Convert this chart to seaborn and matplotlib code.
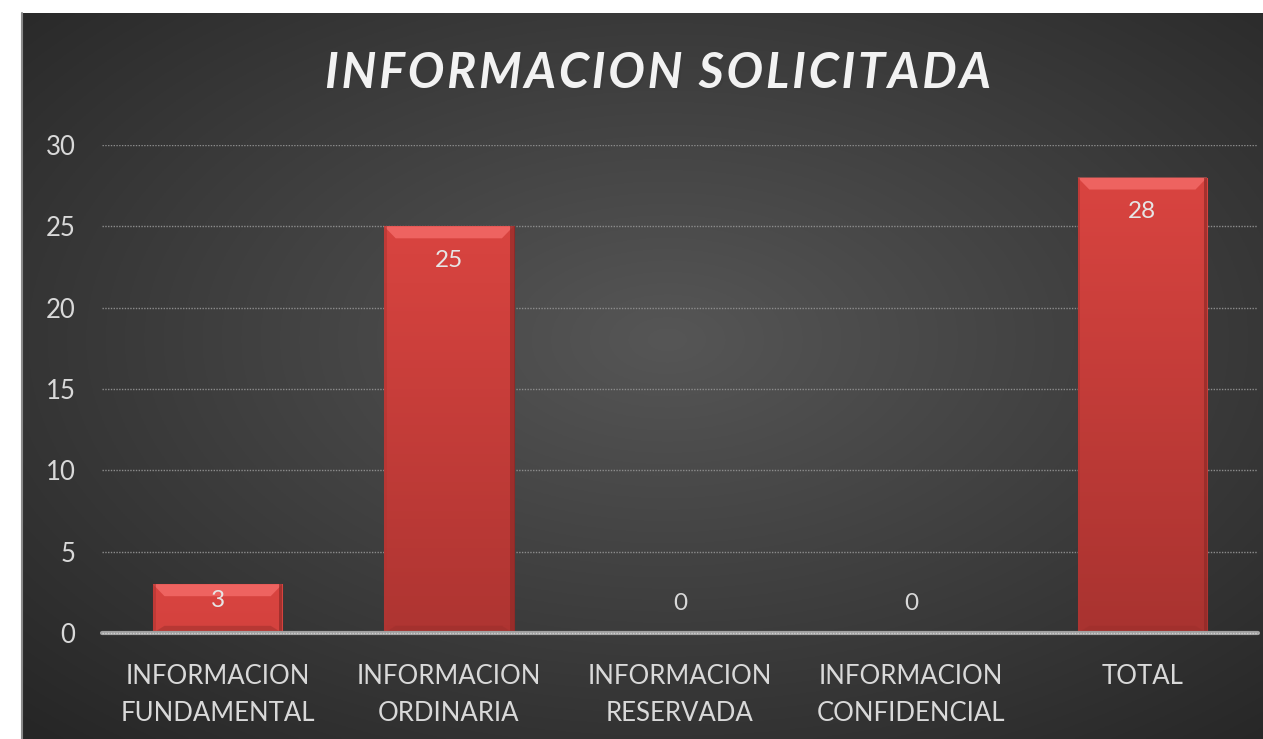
import numpy as np
import matplotlib
matplotlib.use("Agg")
import matplotlib.pyplot as plt
import seaborn as sns
from matplotlib.patches import Polygon

categories = ["INFORMACION\nFUNDAMENTAL", "INFORMACION\nORDINARIA", "INFORMACION\nRESERVADA",
              "INFORMACION\nCONFIDENCIAL", "TOTAL"]
values = [3, 25, 0, 0, 28]
y_ticks = [0, 5, 10, 15, 20, 25, 30]
title = "INFORMACION SOLICITADA"

sns.set_theme(style="dark")
plt.rcParams["font.family"] = ["Lato", "DejaVu Sans"]

W, H = 1263, 739
fig = plt.figure(figsize=(W / 100, H / 100), dpi=100)
fig.patch.set_facecolor("white")

# radial gradient background of the chart area
bg = fig.add_axes([22 / W, 0, 1 - 22 / W, 1 - 13 / H])
yy, xx = np.mgrid[0:1:400j, 0:1:700j]
r = np.sqrt(((xx - 0.52) / 0.75) ** 2 + ((yy - 0.55) / 0.75) ** 2)
r = np.clip(r, 0, 1)
c0 = np.array([0x56, 0x56, 0x56]) / 255
c1 = np.array([0x26, 0x26, 0x26]) / 255
img = c0[None, None, :] * (1 - r[..., None]) + c1[None, None, :] * r[..., None]
bg.imshow(img, aspect="auto", extent=[0, 1, 0, 1], origin="lower")
bg.set_axis_off()
bg.plot([0, 0], [0, 1], color="#8a8a8a", lw=1.5, transform=bg.transAxes, clip_on=False)

ax = fig.add_axes([102 / W, 1 - 633 / H, (1258 - 102) / W, (633 - 145) / H])
ax.set_facecolor("none")
sns.barplot(x=categories, y=values, color="#D0403D", width=0.56, ax=ax,
            saturation=1, edgecolor="#8f2a28", linewidth=0.8, zorder=3)

ax.set_ylim(0, 30)
ax.set_xlim(-0.5, len(categories) - 0.5)
ax.set_yticks(y_ticks)
ax.set_yticklabels([str(t) for t in y_ticks])

# bar shading: vertical gradient plus bevels
px = 30 / (633 - 145)
for p in list(ax.patches):
    x0, w, h = p.get_x(), p.get_width(), p.get_height()
    if h <= 0:
        continue
    grad = np.linspace(0, 1, 100)[:, None]
    top = np.array([0xD9, 0x44, 0x40]) / 255
    bot = np.array([0xA9, 0x33, 0x30]) / 255
    frac = min(1.0, h / 28)
    bot = top * (1 - frac) + bot * frac
    g = top[None, None, :] * grad[..., None] + bot[None, None, :] * (1 - grad[..., None])
    g = np.repeat(g, 2, axis=1)
    im = ax.imshow(g, extent=[x0, x0 + w, 0, h], origin="lower", aspect="auto", zorder=3.5)
    im.set_clip_path(p)
    bev = 12 * px
    dx = w * 0.09
    ax.add_patch(Polygon([[x0, h], [x0 + w, h], [x0 + w - dx, h - bev], [x0 + dx, h - bev]],
                         closed=True, facecolor="#EE6360", edgecolor="none", zorder=4))
    bb = min(bev * 0.6, h / 3)
    ax.add_patch(Polygon([[x0, 0], [x0 + w, 0], [x0 + w - dx, bb], [x0 + dx, bb]],
                         closed=True, facecolor="#9c2f2c", edgecolor="none", alpha=0.5, zorder=4))
    ax.add_patch(Polygon([[x0, 0], [x0, h], [x0 + 0.012, h], [x0 + 0.012, 0]],
                         closed=True, facecolor="#b23532", edgecolor="none", alpha=0.6, zorder=4))
    ax.add_patch(Polygon([[x0 + w, 0], [x0 + w, h], [x0 + w - 0.014, h], [x0 + w - 0.014, 0]],
                         closed=True, facecolor="#8f2a28", edgecolor="none", alpha=0.7, zorder=4))

ax.set_xlim(-0.5, len(categories) - 0.5)
ax.set_ylim(0, 30)

# data labels
for i, v in enumerate(values):
    if v > 0:
        ax.text(i, v - min(2.1, 0.34 * v), str(v), ha="center", va="center",
                color="#E6E6E6", fontsize=17.5, zorder=6)
    else:
        ax.text(i, v + 1.8, str(v), ha="center", va="center", color="#D9D9D9", fontsize=17.5, zorder=6)

# gridlines
for t in y_ticks[1:]:
    ax.axhline(t, color="#8c8c8c", lw=1, ls=(0, (1, 1)), zorder=1)
ax.axhline(0, color="#a0a0a0", lw=3, zorder=5, clip_on=False)
ax.axhline(0, color="#cfcfcf", lw=1, ls=(0, (1, 1)), zorder=5.5, clip_on=False)

for s in ax.spines.values():
    s.set_visible(False)
ax.grid(False)
ax.tick_params(axis="both", length=0, colors="#D9D9D9", labelsize=18.5)
ax.tick_params(axis="y", pad=19)
ax.tick_params(axis="x", pad=22)
ax.set_xlabel("")
ax.set_ylabel("")
for lab in ax.get_xticklabels():
    lab.set_linespacing(1.6)

# title with wide letter spacing
spaced = "\u200a".join(title)
fig.text(660 / W, 1 - 75 / H, spaced, ha="center", va="center", color="#3a3a3a",
         fontsize=35, fontweight="bold", fontstyle="italic", alpha=0.6)
fig.text(658 / W, 1 - 73 / H, spaced, ha="center", va="center", color="#F2F2F2",
         fontsize=35, fontweight="bold", fontstyle="italic")

fig.savefig("out.png", dpi=100, facecolor=fig.get_facecolor())
